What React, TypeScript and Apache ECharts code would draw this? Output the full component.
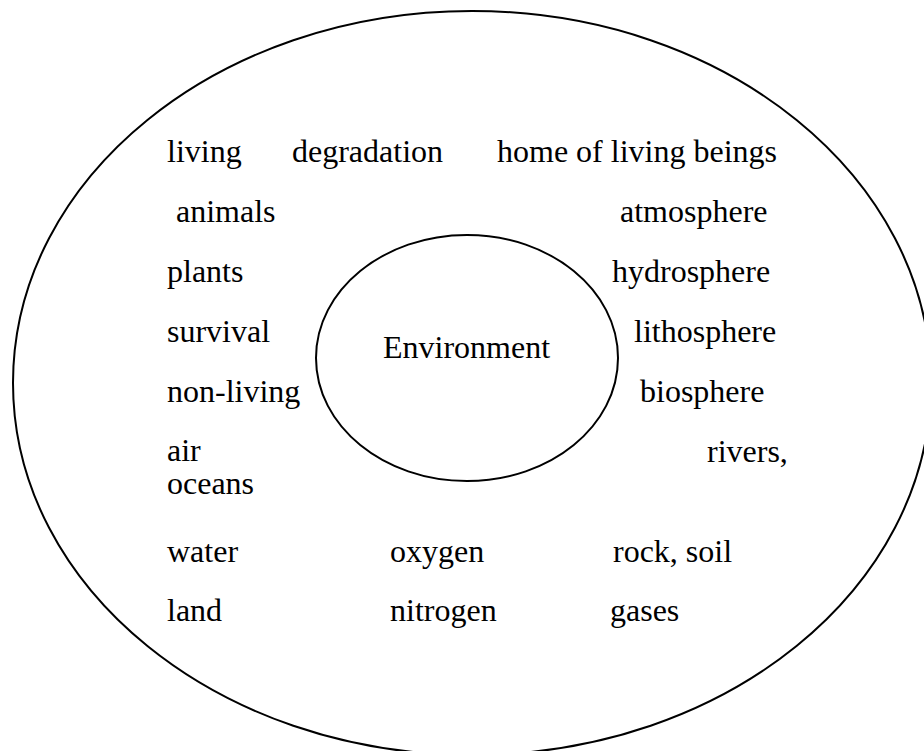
import React, { useEffect, useRef } from "react";
import * as echarts from "echarts";

// Terms shown inside the outer ellipse, grouped by column (top to bottom)
const leftTerms = ["living", "animals", "plants", "survival", "non-living", "air\noceans", "water", "land"];
const middleTerms = ["degradation", "oxygen", "nitrogen"];
const rightTerms = ["home of living beings", "atmosphere", "hydrosphere", "lithosphere", "biosphere", "rivers,", "rock, soil", "gases"];
const centerLabel = "Environment";

// Layout (first-line baselines and x starts)
const leftRows = [162, 222, 282, 342, 402, 461, 562, 621];
const leftX = [167, 176, 167, 167, 167, 167, 167, 167];
const middleRows = [162, 562, 621];
const middleX = [292, 390, 390];
const rightRows = [162, 222, 282, 342, 402, 462, 562, 621];
const rightX = [497, 620, 612, 634, 640, 707, 613, 610];

const FONT = "'Liberation Serif', 'Times New Roman', Times, serif";
const FS = 32;
const LH = 33;
const BASE_OFF = 10.8; // baseline offset from line centre

export default function App() {
  const ref = useRef<HTMLDivElement>(null);
  useEffect(() => {
    if (!ref.current) return;
    const chart = echarts.init(ref.current, null, { renderer: "svg" });
    const txt = (s: string, x: number, base: number) => ({
      type: "text",
      x,
      y: base - BASE_OFF - LH / 2,
      style: {
        text: s,
        fill: "#000",
        fontFamily: FONT,
        fontSize: FS,
        lineHeight: LH,
        textAlign: "left",
        textVerticalAlign: "top",
      },
    });
    const elements: any[] = [
      {
        type: "ellipse",
        shape: { cx: 472, cy: 383, rx: 459, ry: 372 },
        style: { fill: "none", stroke: "#000", lineWidth: 2 },
      },
      {
        type: "ellipse",
        shape: { cx: 467, cy: 358, rx: 151, ry: 123 },
        style: { fill: "none", stroke: "#000", lineWidth: 2 },
      },
      txt(centerLabel, 383, 358),
    ];
    leftTerms.forEach((s, i) => elements.push(txt(s, leftX[i], leftRows[i])));
    middleTerms.forEach((s, i) => elements.push(txt(s, middleX[i], middleRows[i])));
    rightTerms.forEach((s, i) => elements.push(txt(s, rightX[i], rightRows[i])));
    chart.setOption({
      animation: false,
      backgroundColor: "#fff",
      graphic: { elements },
    });
    return () => chart.dispose();
  }, []);
  return (
    <div
      ref={ref}
      style={{ position: "fixed", left: 0, top: 0, width: 924, height: 751, background: "#fff" }}
    />
  );
}
